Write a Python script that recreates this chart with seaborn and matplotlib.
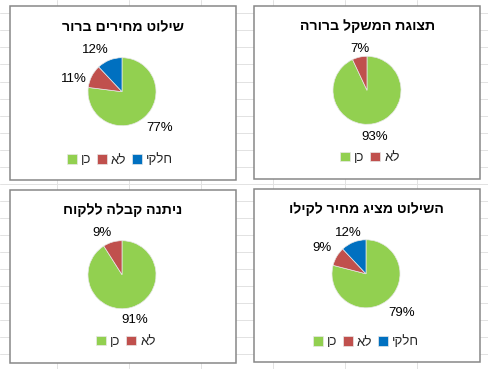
import matplotlib
matplotlib.use("Agg")
import matplotlib.pyplot as plt
from matplotlib.patches import Rectangle
import numpy as np
import seaborn as sns

# ---------------- data ----------------
titles = ["שילוט מחירים ברור", "תצוגת המשקל ברורה",
          "ניתנה קבלה ללקוח", "השילוט מציג מחיר לקילו"]
categories = ["כן", "לא", "חלקי"]
values_tl = [77, 11, 12]
values_tr = [93, 7]
values_bl = [91, 9]
values_br = [79, 9, 12]
colors = ["#92D050", "#C0504D", "#0070C0"]

# ---------------- style / layout (pixels) ----------------
W, H = 488, 369
sns.set_theme(style="white")
plt.rcParams["font.family"] = ["Liberation Sans", "DejaVu Sans"]

panels = [
    dict(vals=values_tl, box=(9.5, 6, 235.5, 179.7), c=(122, 91.7), title_y=31,
         leg=(120, 160), lr=[1.55, 1.46, 1.46], da=[4.6, 12, 11]),
    dict(vals=values_tr, box=(254.3, 6, 480.3, 178.7), c=(367, 90.3), title_y=30,
         leg=(370, 158), lr=[1.39, 1.23], da=[-3, -3]),
    dict(vals=values_bl, box=(9.5, 190, 235.5, 362.7), c=(122, 274.7), title_y=214,
         leg=(126, 342), lr=[1.39, 1.36], da=[0, 9]),
    dict(vals=values_br, box=(253.7, 189, 479.7, 361.7), c=(366, 273.8), title_y=213,
         leg=(366, 342), lr=[1.56, 1.5, 1.31], da=[5, 0, 2]),
]
R = 34
grid_color = "#E2E2E2"
box_color = "#878787"
label_fs = 9.5

fig = plt.figure(figsize=(W / 100, H / 100), dpi=100)
fig.patch.set_facecolor("white")

def fx(x):
    return x / W

def fy(y):
    return 1 - y / H

# spreadsheet background
ax_bg = fig.add_axes([0, 0, 1, 1], zorder=0)
ax_bg.set_xlim(0, W)
ax_bg.set_ylim(H, 0)
ax_bg.axis("off")
for gx in np.arange(56.7, W, 72):
    ax_bg.axvline(gx, color=grid_color, lw=0.7)
for gy in np.arange(13.3, H, 17.05):
    ax_bg.axhline(gy, color=grid_color, lw=0.7)

for i, p in enumerate(panels):
    x0, y0, x1, y1 = p["box"]
    ax_bg.add_patch(Rectangle((x0, y0), x1 - x0, y1 - y0, facecolor="white",
                              edgecolor=box_color, lw=1.1, zorder=2))
    ax_bg.text((x0 + x1) / 2, p["title_y"], titles[i][::-1], ha="center",
               va="baseline", fontsize=10.2, fontweight="bold", color="black",
               zorder=3)

    cx, cy = p["c"]
    s = 2 * R * 1.6
    ax = fig.add_axes([fx(cx - s / 2), fy(cy + s / 2), s / W, s / H], zorder=3)
    n = len(p["vals"])
    wedges, _ = ax.pie(p["vals"], colors=colors[:n], startangle=90,
                       counterclock=False,
                       wedgeprops=dict(edgecolor="#E8E8E8", linewidth=0.5))
    ax.set_xlim(-1.6, 1.6)
    ax.set_ylim(-1.6, 1.6)
    ax.set_aspect("equal")
    ax.axis("off")
    for w, v, rf, da in zip(wedges, p["vals"], p["lr"], p["da"]):
        ang = np.deg2rad((w.theta1 + w.theta2) / 2 + da)
        ax.text(rf * np.cos(ang), rf * np.sin(ang), f"{v}%", ha="center",
                va="center", fontsize=label_fs, color="black")

    lx, ly = p["leg"]
    ax.legend(wedges, [c[::-1] for c in categories[:n]], loc="center",
              bbox_to_anchor=(fx(lx), fy(ly)), bbox_transform=fig.transFigure,
              ncol=n, frameon=False, handlelength=0.75, handleheight=0.75,
              handletextpad=0.3, columnspacing=0.45, fontsize=label_fs,
              borderpad=0, borderaxespad=0)

fig.savefig("out.png", dpi=100)
